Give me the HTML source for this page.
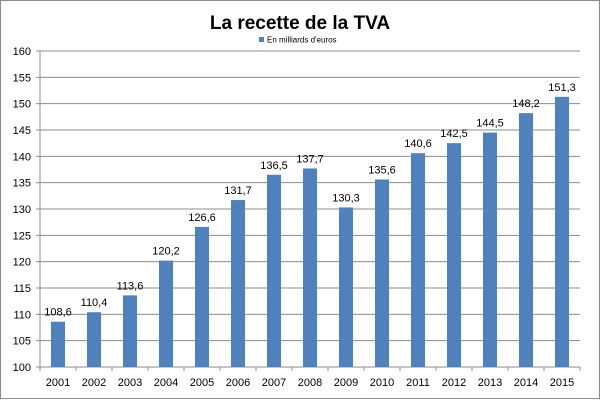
<!DOCTYPE html>
<html><head><meta charset="utf-8"><style>
body{margin:0;background:#fff}
svg{display:block;font-family:"Liberation Sans",sans-serif}
</style></head><body>
<svg width="600" height="400">
<rect x="0.5" y="0.5" width="599" height="398" fill="#fff" stroke="#8c8c8c"/>
<text x="300" y="29" text-anchor="middle" font-size="19" font-weight="bold" fill="#000">La recette de la TVA</text>
<g>
<rect x="259" y="37" width="5" height="5" fill="#4f81bd"/>
<text x="267" y="42.5" font-size="8" fill="#000">En milliards d'euros</text>
</g>
<g id="grid"></g><g id="bars"></g><g id="axes"></g>
</svg>
<script>
const years=["2001","2002","2003","2004","2005","2006","2007","2008","2009","2010","2011","2012","2013","2014","2015"];
const values=[108.6,110.4,113.6,120.2,126.6,131.7,136.5,137.7,130.3,135.6,140.6,142.5,144.5,148.2,151.3];
const yTicks=[100,105,110,115,120,125,130,135,140,145,150,155,160];
const NS="http://www.w3.org/2000/svg";
const x0=40,cw=36,yMin=100,yMax=160,yTop=51,yBot=367;
function y(v){return yBot-(v-yMin)/(yMax-yMin)*(yBot-yTop);}
function xc(i){return x0+cw*i+cw/2;}
function mk(t,a,p){const e=document.createElementNS(NS,t);for(const k in a)e.setAttribute(k,a[k]);p.appendChild(e);return e;}
const g=document.getElementById('grid'),b=document.getElementById('bars'),ax=document.getElementById('axes');
yTicks.forEach(t=>{
 const l=mk('line',{x1:36,x2:580,y1:y(t),y2:y(t),stroke:'#8c8c8c','stroke-width':1},g);
 
 
 const tx=mk('text',{x:31,y:y(t)+4,'text-anchor':'end','font-size':11,fill:'#000'},ax);
 tx.textContent=t;
 
 
});
const axl=mk('line',{x1:40,x2:40,y1:yTop,y2:yBot,stroke:'#8c8c8c'},ax);


for(let i=0;i<=years.length;i++){
 const tk=mk('line',{x1:x0+cw*i,x2:x0+cw*i,y1:yBot,y2:yBot+4,stroke:'#8c8c8c'},ax);
 
 
}
years.forEach((yr,i)=>{
 const v=values[i];
 const r=mk('rect',{x:xc(i)-7,y:y(v),width:14,height:yBot-y(v),fill:'#4f81bd'},b);
 
 
 const lb=mk('text',{x:xc(i),y:y(v)-6,'text-anchor':'middle','font-size':11,fill:'#000'},b);
 lb.textContent=String(v).replace('.',',');
 
 
 const xl=mk('text',{x:xc(i),y:386,'text-anchor':'middle','font-size':11,fill:'#000'},ax);
 xl.textContent=yr;
 
 
});
</script>
</body></html>
